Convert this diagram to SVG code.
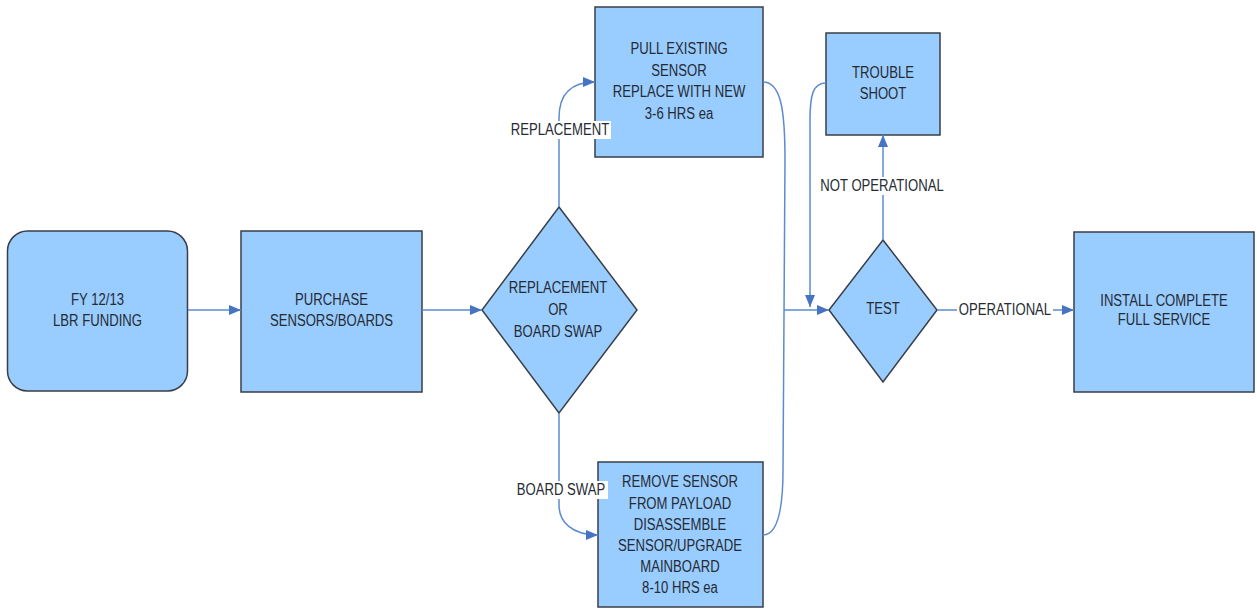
<svg xmlns="http://www.w3.org/2000/svg" width="1257" height="609" viewBox="0 0 1257 609">
  <style>
    .box { fill: #99ccff; stroke: #3a3f47; stroke-width: 1.5; }
    .txt { font-family: "Liberation Sans", Arial, sans-serif; font-size: 16px; fill: #262b33; text-anchor: middle; }
    .wire { fill: none; stroke: #5c8bd1; stroke-width: 1.5; }
    .tag { fill: #ffffff; }
  </style>
  <defs>
    <marker id="arrow" viewBox="0 0 12 10" refX="12" refY="5" markerWidth="12" markerHeight="10" markerUnits="userSpaceOnUse" orient="auto">
      <path d="M0,0 L12,5 L0,10 Z" fill="#4673c2"/>
    </marker>
  </defs>

  <rect width="1257" height="609" fill="#ffffff"/>

  <!-- Nodes -->
  <g id="funding">
    <rect class="box" x="7.5" y="231" width="180" height="160" rx="20" ry="20"/>
    <g transform="translate(97.5 0) scale(0.82 1)">
      <text class="txt" x="0" y="305">FY 12/13</text>
      <text class="txt" x="0" y="326">LBR FUNDING</text>
    </g>
  </g>

  <g id="purchase">
    <rect class="box" x="241" y="231" width="181" height="161"/>
    <g transform="translate(331.5 0) scale(0.82 1)">
      <text class="txt" x="0" y="305">PURCHASE</text>
      <text class="txt" x="0" y="326">SENSORS/BOARDS</text>
    </g>
  </g>

  <g id="decision">
    <polygon class="box" points="559,207 637,310 559,413 482,310"/>
    <g transform="translate(558 0) scale(0.82 1)">
      <text class="txt" x="0" y="293">REPLACEMENT</text>
      <text class="txt" x="0" y="315">OR</text>
      <text class="txt" x="0" y="337">BOARD SWAP</text>
    </g>
  </g>

  <g id="pull-sensor">
    <rect class="box" x="595" y="7" width="168" height="150"/>
    <g transform="translate(679 0) scale(0.82 1)">
      <text class="txt" x="0" y="54">PULL EXISTING</text>
      <text class="txt" x="0" y="76">SENSOR</text>
      <text class="txt" x="0" y="97">REPLACE WITH NEW</text>
      <text class="txt" x="0" y="119">3-6 HRS ea</text>
    </g>
  </g>

  <g id="remove-sensor">
    <rect class="box" x="598" y="462" width="165" height="145"/>
    <g transform="translate(680 0) scale(0.82 1)">
      <text class="txt" x="0" y="487">REMOVE SENSOR</text>
      <text class="txt" x="0" y="509">FROM PAYLOAD</text>
      <text class="txt" x="0" y="530">DISASSEMBLE</text>
      <text class="txt" x="0" y="551">SENSOR/UPGRADE</text>
      <text class="txt" x="0" y="572">MAINBOARD</text>
      <text class="txt" x="0" y="593">8-10 HRS ea</text>
    </g>
  </g>

  <g id="trouble-shoot">
    <rect class="box" x="826" y="33" width="114" height="102"/>
    <g transform="translate(883 0) scale(0.82 1)">
      <text class="txt" x="0" y="78">TROUBLE</text>
      <text class="txt" x="0" y="99">SHOOT</text>
    </g>
  </g>

  <g id="test">
    <polygon class="box" points="883,240 937,310 883,382 829,310"/>
    <g transform="translate(883 0) scale(0.82 1)">
      <text class="txt" x="0" y="314">TEST</text>
    </g>
  </g>

  <g id="install">
    <rect class="box" x="1074" y="232" width="180" height="160"/>
    <g transform="translate(1164 0) scale(0.82 1)">
      <text class="txt" x="0" y="306">INSTALL COMPLETE</text>
      <text class="txt" x="0" y="325">FULL SERVICE</text>
    </g>
  </g>

  <!-- Connectors -->
  <g id="connectors">
    <path class="wire" d="M188,310 L241,310" marker-end="url(#arrow)"/>
    <path class="wire" d="M422,310 L482,310" marker-end="url(#arrow)"/>
    <path class="wire" d="M559,207 L559,118 C559,95 570,82 595,82" marker-end="url(#arrow)"/>
    <path class="wire" d="M559,413 L559,505 C559,522 572,535 598,535" marker-end="url(#arrow)"/>
    <path class="wire" d="M763,82 C781,82 785,110 785,160 L783,470 C783,510 777,535 763,535"/>
    <path class="wire" d="M784,310 L829,310" marker-end="url(#arrow)"/>
    <path class="wire" d="M826,83 C813,83 810,95 810,120 L810,307" marker-end="url(#arrow)"/>
    <path class="wire" d="M883,240 L883,135" marker-end="url(#arrow)"/>
    <path class="wire" d="M937,310 L1074,310" marker-end="url(#arrow)"/>

    <!-- branch labels on white tags -->
    <rect class="tag" x="510" y="121" width="101" height="18"/>
    <g transform="translate(560 0) scale(0.82 1)">
      <text class="txt" x="0" y="135">REPLACEMENT</text>
    </g>
    <rect class="tag" x="515" y="481" width="93" height="18"/>
    <g transform="translate(561 0) scale(0.82 1)">
      <text class="txt" x="0" y="495">BOARD SWAP</text>
    </g>
    <rect class="tag" x="818" y="177" width="128" height="18"/>
    <g transform="translate(882 0) scale(0.82 1)">
      <text class="txt" x="0" y="191">NOT OPERATIONAL</text>
    </g>
    <rect class="tag" x="957" y="301" width="96" height="18"/>
    <g transform="translate(1005 0) scale(0.82 1)">
      <text class="txt" x="0" y="315">OPERATIONAL</text>
    </g>
  </g>
</svg>
